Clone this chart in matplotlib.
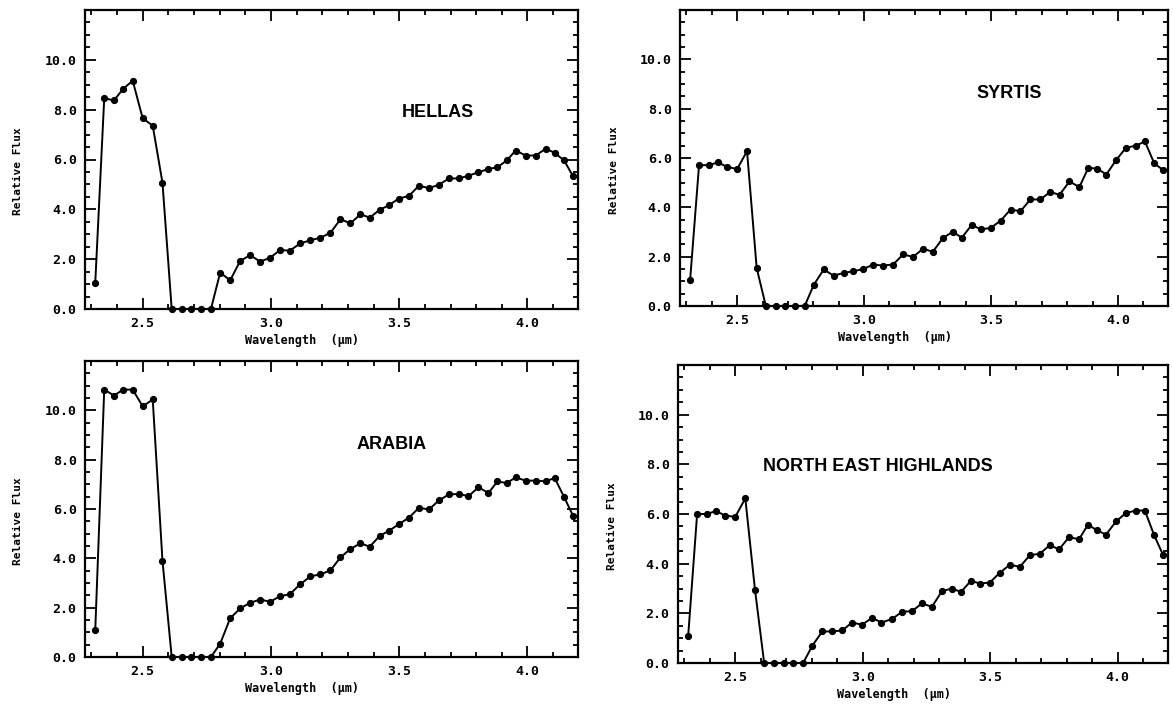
import matplotlib
matplotlib.use("Agg")
import matplotlib.pyplot as plt
from matplotlib.ticker import MultipleLocator, FixedLocator

# Wavelength grid (µm)
wavelength = [2.315, 2.350, 2.388, 2.424, 2.461, 2.500, 2.539, 2.577, 2.613, 2.652,
              2.689, 2.728, 2.766, 2.802, 2.841, 2.880, 2.919, 2.958, 2.997, 3.036,
              3.073, 3.114, 3.154, 3.193, 3.232, 3.271, 3.310, 3.349, 3.385, 3.424,
              3.459, 3.498, 3.538, 3.577, 3.616, 3.655, 3.694, 3.733, 3.770, 3.809,
              3.848, 3.883, 3.919, 3.954, 3.993, 4.032, 4.071, 4.106, 4.143, 4.178]

hellas = [1.05, 8.46, 8.37, 8.84, 9.16, 7.65, 7.36, 5.07, 0.0, 0.0,
          0.0, 0.0, 0.0, 1.46, 1.15, 1.93, 2.16, 1.90, 2.06, 2.37,
          2.34, 2.63, 2.76, 2.86, 3.06, 3.60, 3.44, 3.80, 3.67, 3.98,
          4.16, 4.43, 4.54, 4.95, 4.85, 4.99, 5.24, 5.24, 5.35, 5.49,
          5.62, 5.69, 5.96, 6.36, 6.16, 6.16, 6.43, 6.27, 5.96, 5.32]

syrtis = [1.07, 5.71, 5.71, 5.82, 5.64, 5.55, 6.28, 1.54, 0.0, 0.0,
          0.0, 0.0, 0.0, 0.86, 1.48, 1.23, 1.34, 1.41, 1.50, 1.68,
          1.64, 1.68, 2.09, 1.99, 2.32, 2.20, 2.75, 3.01, 2.77, 3.29,
          3.11, 3.16, 3.46, 3.91, 3.84, 4.32, 4.32, 4.62, 4.51, 5.05,
          4.82, 5.60, 5.57, 5.33, 5.92, 6.42, 6.50, 6.67, 5.78, 5.51]

arabia = [1.10, 10.84, 10.60, 10.84, 10.84, 10.16, 10.44, 3.91, 0.0, 0.0,
          0.0, 0.0, 0.0, 0.54, 1.57, 1.97, 2.20, 2.33, 2.24, 2.47,
          2.54, 2.95, 3.27, 3.35, 3.51, 4.04, 4.38, 4.61, 4.47, 4.91,
          5.11, 5.38, 5.65, 6.05, 5.98, 6.35, 6.59, 6.61, 6.52, 6.88,
          6.65, 7.12, 7.05, 7.28, 7.15, 7.15, 7.12, 7.26, 6.48, 5.72]

ne_highlands = [1.10, 6.00, 6.00, 6.12, 5.93, 5.89, 6.63, 2.95, 0.0, 0.0,
                0.0, 0.0, 0.0, 0.70, 1.27, 1.27, 1.31, 1.63, 1.54, 1.82,
                1.63, 1.77, 2.06, 2.09, 2.40, 2.26, 2.89, 3.00, 2.86, 3.31,
                3.20, 3.24, 3.64, 3.96, 3.87, 4.34, 4.40, 4.74, 4.58, 5.07,
                4.98, 5.57, 5.34, 5.17, 5.70, 6.04, 6.14, 6.14, 5.14, 4.34]

panel_names = ["HELLAS", "SYRTIS", "ARABIA", "NORTH EAST HIGHLANDS"]
panel_series = [hellas, syrtis, arabia, ne_highlands]
label_pos = [(3.65, 7.9), (3.57, 8.6), (3.47, 8.6), (3.06, 7.9)]

x_ticks = [2.5, 3.0, 3.5, 4.0]
x_ticklabels = ["2.5", "3.0", "3.5", "4.0"]
y_ticks = [0, 2, 4, 6, 8, 10]
y_ticklabels = ["0.0", "2.0", "4.0", "6.0", "8.0", "10.0"]

W, H = 1173, 706
fig = plt.figure(figsize=(W / 100, H / 100), dpi=100)

# axes rectangles in pixel coordinates: left, right, top, bottom
rects_px = [(85, 578, 10, 309), (680, 1168, 10, 306),
            (85, 578, 361, 657), (678, 1168, 365, 663)]

mono = "DejaVu Sans Mono"
for (l, r, t, b), name, ys, (tx, ty) in zip(rects_px, panel_names, panel_series, label_pos):
    ax = fig.add_axes([l / W, 1 - b / H, (r - l) / W, (b - t) / H])
    ax.plot(wavelength, ys, color="black", lw=1.4, marker="o", ms=4.2,
            markerfacecolor="black", markeredgecolor="black", clip_on=False)
    ax.set_xlim(2.275, 4.197)
    ax.set_ylim(0, 12)
    ax.xaxis.set_major_locator(FixedLocator(x_ticks))
    ax.set_xticklabels(x_ticklabels)
    ax.xaxis.set_minor_locator(MultipleLocator(0.1))
    ax.yaxis.set_major_locator(FixedLocator(y_ticks))
    ax.set_yticklabels(y_ticklabels)
    ax.yaxis.set_minor_locator(MultipleLocator(0.5))
    ax.tick_params(which="both", direction="in", top=True, right=True,
                   width=1.3, color="black")
    ax.tick_params(which="major", length=8, pad=6)
    ax.tick_params(which="minor", length=3.5)
    for lab in ax.get_xticklabels() + ax.get_yticklabels():
        lab.set_family(mono)
        lab.set_fontweight("bold")
        lab.set_fontsize(9.5)
    for sp in ax.spines.values():
        sp.set_linewidth(1.6)
    ax.set_xlabel("Wavelength  (µm)", family=mono, fontweight="bold", fontsize=8.5)
    ax.xaxis.set_label_coords(0.44, -0.085)
    ax.set_ylabel("Relative Flux", family=mono, fontweight="bold", fontsize=8)
    ax.yaxis.set_label_coords(-0.125, 0.46)
    ax.text(tx, ty, name, ha="center", va="center", fontsize=13,
            family="Liberation Sans", fontweight="bold")

fig.savefig("out.png", dpi=100)
